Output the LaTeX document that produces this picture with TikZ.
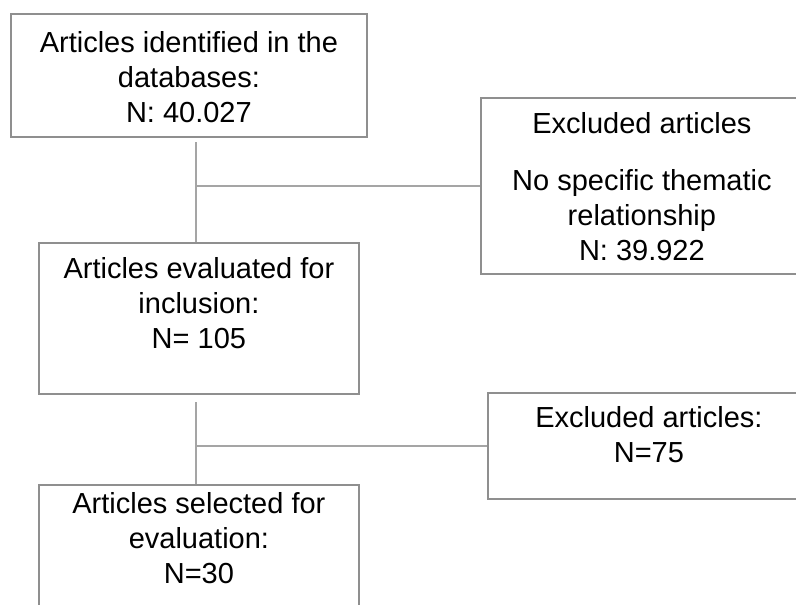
\documentclass[tikz,border=0pt]{standalone}
\usepackage{fontspec}
\setmainfont{Liberation Sans}
\usepackage{xcolor}
\usetikzlibrary{positioning}

\definecolor{boxgray}{HTML}{8F8F8F}
\definecolor{linegray}{HTML}{A5A5A5}

\tikzset{
  flowbox/.style={draw=boxgray,line width=1.8pt,rectangle,inner sep=0pt,anchor=north west,
    font=\fontsize{29}{35}\selectfont},
  link/.style={draw=linegray,line width=1.2pt}
}
% width, height, top padding, text
\newcommand{\boxtext}[4]{\parbox[c][#2][t]{#1}{\centering\vspace*{#3}#4}}

\begin{document}
\begin{tikzpicture}[x=1pt,y=-1pt]
  \useasboundingbox (0,0) rectangle (796,605);
  \clip (0,0) rectangle (796,605);
  \fill[white] (0,0) rectangle (796,605);

  \node[flowbox] (ident) at (10,13) {\boxtext{356pt}{123pt}{18pt}{Articles identified in the\\databases:\\N: 40.027}};
  \node[flowbox] (excl1) at (480,97) {\boxtext{322pt}{176pt}{15pt}{Excluded articles\\[22pt]No specific thematic\\relationship\\N: 39.922}};
  \node[flowbox] (evald) at (38,242) {\boxtext{320pt}{151pt}{15pt}{Articles evaluated for\\inclusion:\\N= 105}};
  \node[flowbox] (excl2) at (487,392) {\boxtext{322pt}{106pt}{14pt}{Excluded articles:\\N=75}};
  \node[flowbox] (sel) at (38,484) {\boxtext{320pt}{150pt}{8pt}{Articles selected for\\evaluation:\\N=30}};

  \coordinate (drop1) at (196,142);
  \draw[link] (drop1) -- (drop1 |- evald.north);
  \draw[link] (drop1 |- excl1.west) -- (excl1.west);

  \coordinate (drop2) at (196,402);
  \draw[link] (drop2) -- (drop2 |- sel.north);
  \draw[link] (drop2 |- excl2.west) -- (excl2.west);
\end{tikzpicture}
\end{document}
